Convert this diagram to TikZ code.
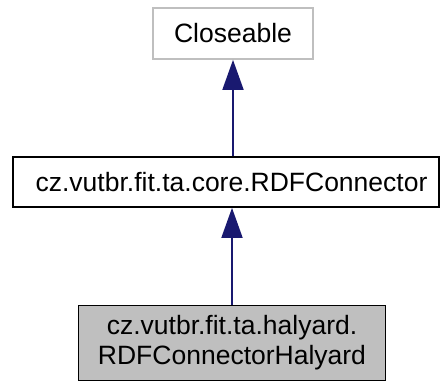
\documentclass[tikz,border=0pt]{standalone}
\usepackage{fontspec}
\setmainfont{Liberation Sans}
\usepackage{xcolor}
\usetikzlibrary{arrows.meta,positioning}
\definecolor{edgeblue}{HTML}{191970}
\definecolor{boxgray}{HTML}{BFBFBF}
\tikzset{
  classbox/.style={draw=black, line width=1.7pt, inner sep=0pt, align=center},
  extbox/.style={classbox, draw=boxgray},
  inherit/.style={draw=edgeblue, line width=1.7pt, {Triangle[length=30pt, width=21pt]}-},
}

\begin{document}
\begin{tikzpicture}[x=1pt, y=-1pt, font=\fontsize{26.5}{30}\selectfont]
\useasboundingbox (0,0) rectangle (441,383);
\node[extbox, minimum width=160pt, minimum height=51pt] (closeable) at (233,33.5) {Closeable};
\node[classbox, minimum width=426pt, minimum height=50pt] (connector) at (226,182) {\hspace{11pt}cz.vutbr.fit.ta.core.RDFConnector};
\node[classbox, fill=boxgray, minimum width=307pt, minimum height=75pt] (halyard) at (232,343) {cz.vutbr.fit.ta.halyard.\\RDFConnectorHalyard};
\draw[inherit] (closeable.south) -- (closeable.south |- connector.north);
\draw[inherit] (connector.south -| halyard.north) -- (halyard.north);
\end{tikzpicture}
\end{document}
